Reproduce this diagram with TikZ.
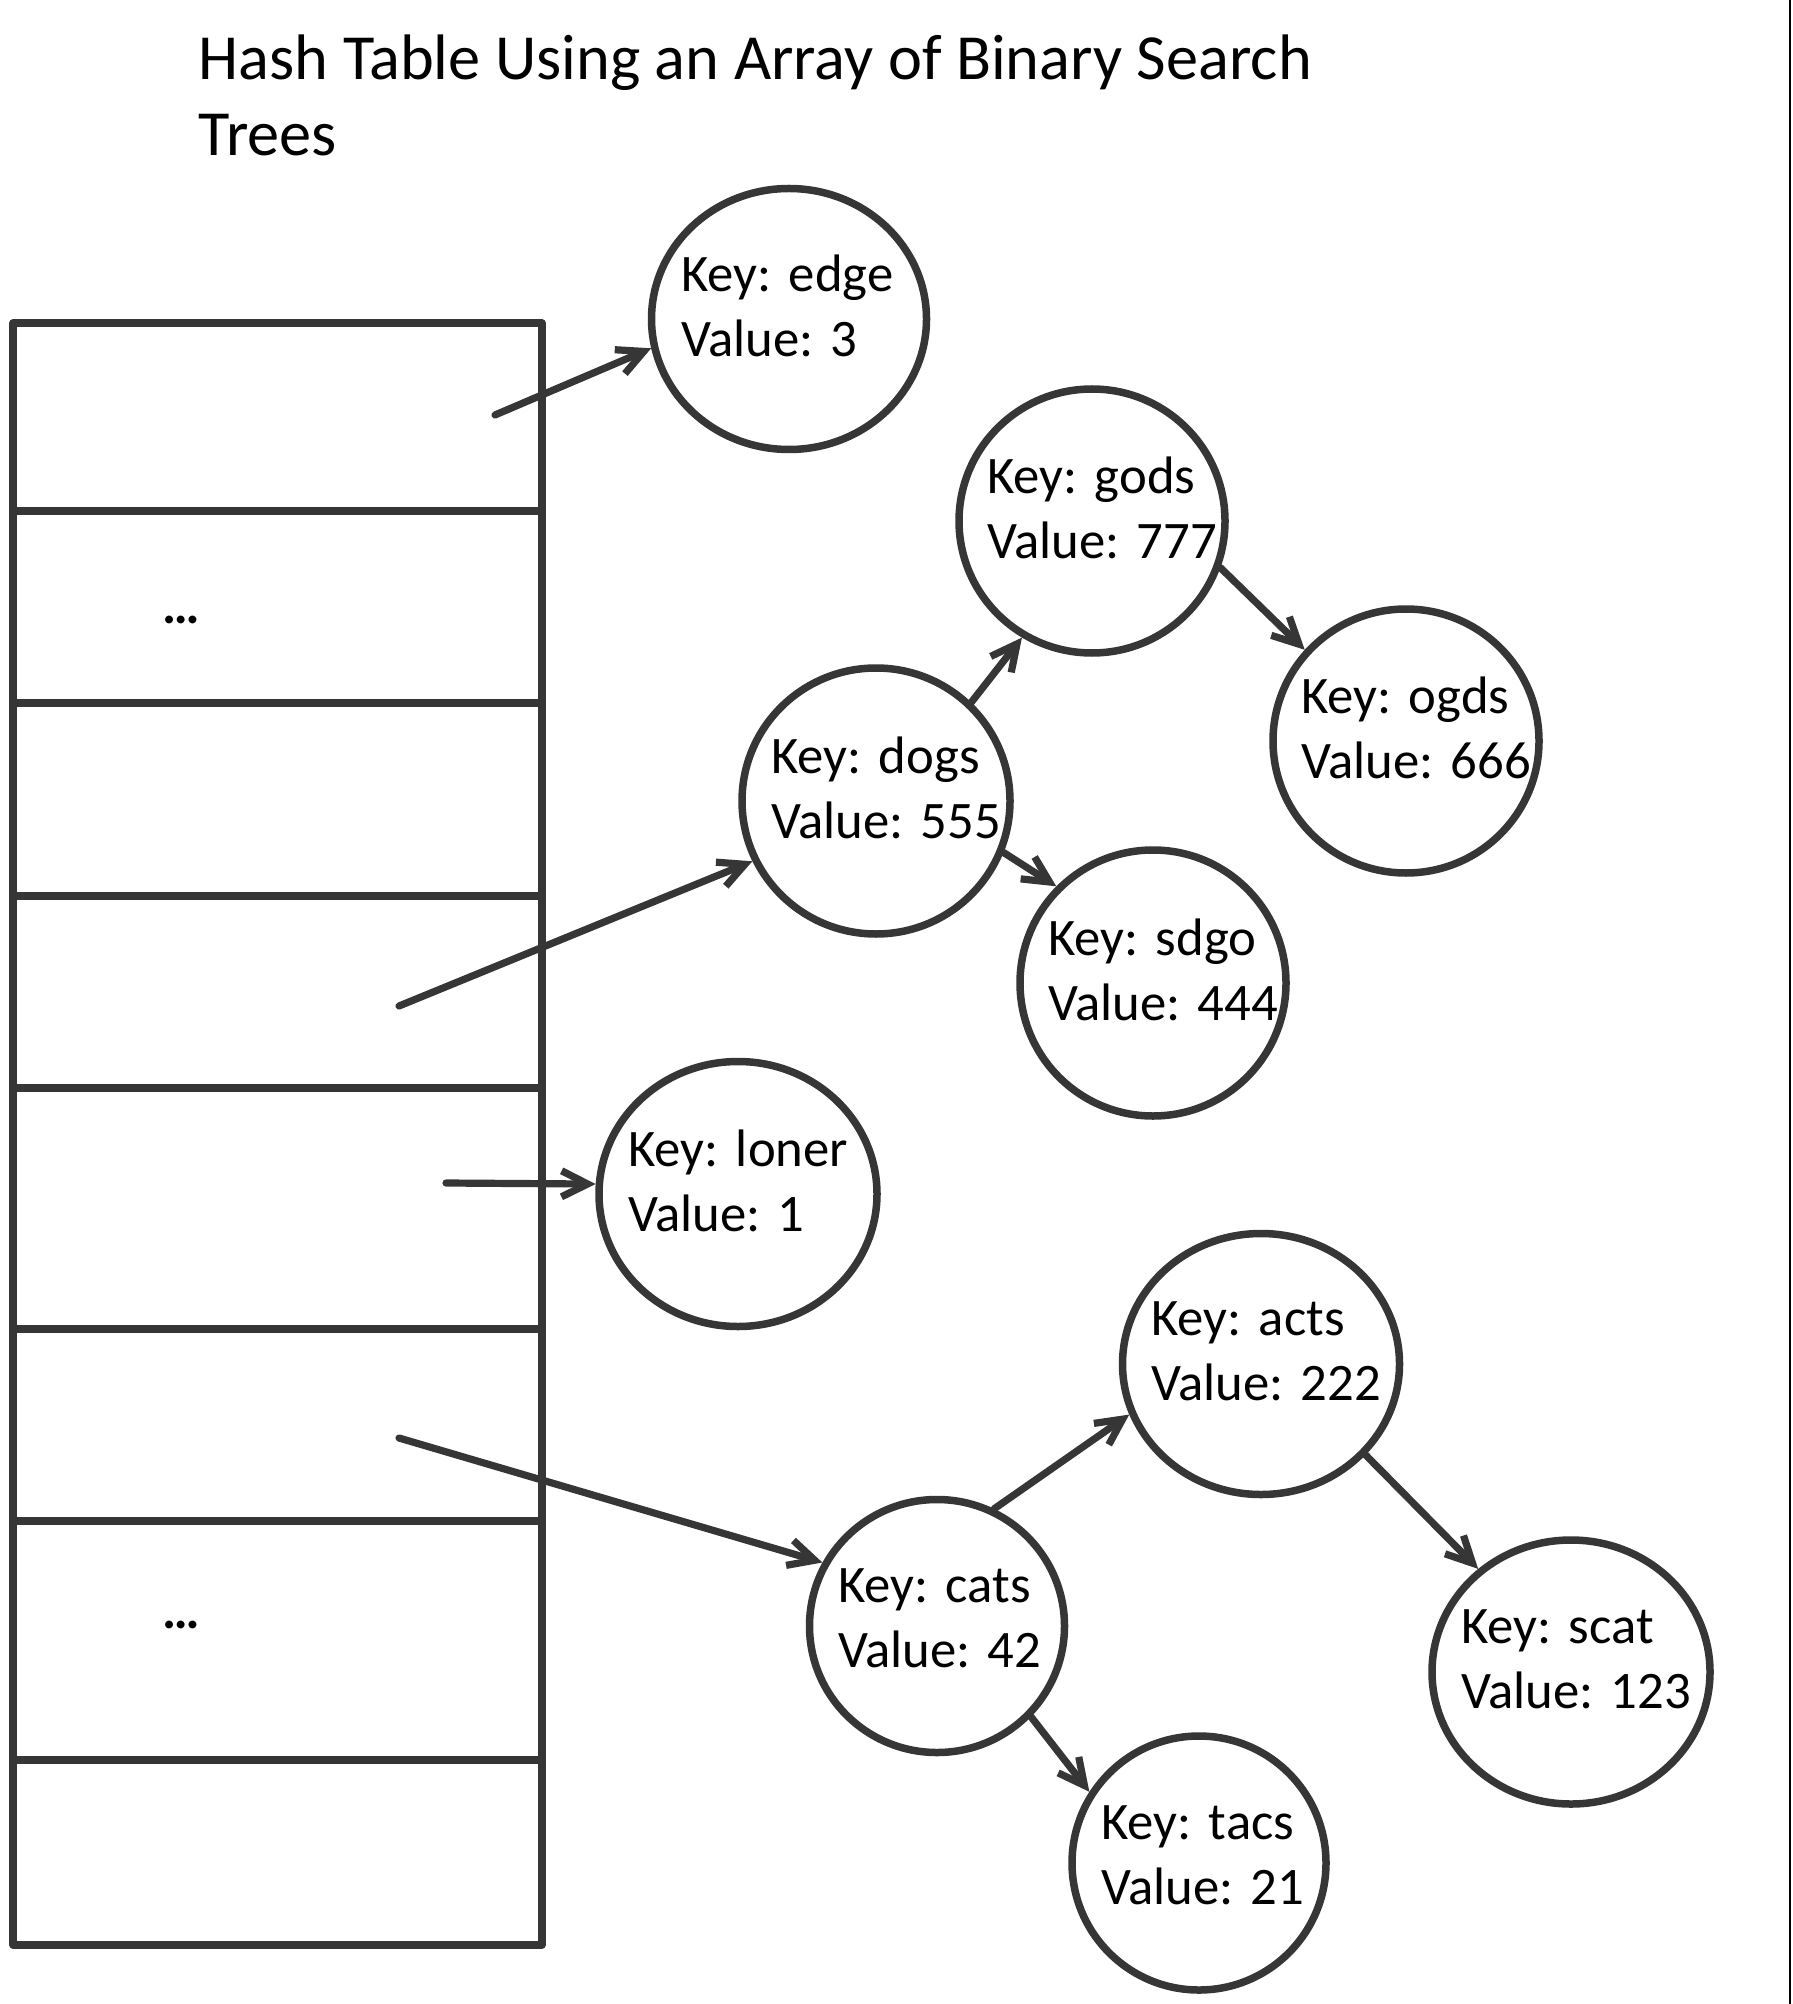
\documentclass[tikz,border=0pt]{standalone}
\usepackage{fontspec}
\setmainfont{Carlito}
\usetikzlibrary{positioning, arrows.meta, shapes.geometric}
\definecolor{inkgray}{HTML}{363636}

\begin{document}
\begin{tikzpicture}[
    every node/.style={font=\fontsize{15pt}{18.5pt}\selectfont},
    bst/.style={draw=inkgray, ellipse, line width=0.75mm, inner sep=-3mm, text width=2.1cm, align=left, text depth=26pt,
      minimum width=2.66cm, minimum height=2.64cm},
    link/.style={draw=inkgray, line width=0.72mm, line cap=round, line join=round},
    >={Straight Barb[length=2.6mm, width=2.6mm]},
  ]
  \useasboundingbox (0,0) rectangle (17.92,-20.04);

  % Title
  \node[anchor=north west, inner sep=0pt, align=left, font=\fontsize{18.3pt}{21.8pt}\selectfont] (title) at (1.98,-0.34)
    {Hash Table Using an Array of Binary Search\\Trees};

  % Array of buckets
  \draw[link] (0.13,-3.23) rectangle (5.42,-19.45);
  \foreach \y in {5.11, 7.03, 8.96, 10.88, 13.29, 15.21, 17.60}
    \draw[link] (0.13,-\y) -- (5.42,-\y);
  \node (dots1) at (1.81,-6.20) {\textbf{\ldots}};
  \node (dots2) at (1.81,-16.25) {\textbf{\ldots}};

  % Bucket pointers
  \coordinate (b1) at (4.95,-4.15);
  \coordinate (b2) at (3.99,-10.06);
  \coordinate (b3) at (4.46,-11.83);
  \coordinate (b4) at (3.99,-14.38);

  % Trees
  \node[bst, minimum width=2.75cm, minimum height=2.61cm, text width=2.16cm] (edge) at (7.89,-3.19) {Key:~edge\\Value:~3};
  \node[bst] (gods) at (10.92,-5.21) {Key:~gods\\Value:~777};
  \node[bst] (ogds) at (14.06,-7.41) {Key:~ogds\\Value:~666};
  \node[bst, minimum width=2.68cm, minimum height=2.66cm] (dogs) at (8.76,-8.01) {Key:~dogs\\Value:~555};
  \node[bst, minimum height=2.66cm] (sdgo) at (11.53,-9.83) {Key:~sdgo\\Value:~444};
  \node[bst, minimum width=2.78cm, minimum height=2.65cm, text width=2.2cm] (loner) at (7.38,-11.94) {Key:~loner\\Value:~1};
  \node[bst, minimum width=2.77cm, minimum height=2.61cm, text width=2.2cm] (acts) at (12.61,-13.64) {Key:~acts\\Value:~222};
  \node[bst, minimum width=2.55cm, minimum height=2.53cm, text width=1.98cm, text depth=23pt] (cats) at (9.37,-16.26) {Key:~cats\\Value:~42};
  \node[bst, minimum width=2.78cm, minimum height=2.64cm, text width=2.2cm] (scat) at (15.71,-16.72) {Key:~scat\\Value:~123};
  \node[bst, minimum width=2.54cm, minimum height=2.54cm, text width=1.96cm, text depth=23pt] (tacs) at (11.99,-18.63) {Key:~tacs\\Value:~21};

  \draw[link, ->] (b1) -- (edge.192);
  \draw[link, ->] (b2) -- (dogs.206);
  \draw[link, ->] (b3) -- (loner.176);
  \draw[link, ->] (b4) -- (cats.151);

  \draw[link, ->] (dogs.46) -- (gods.239);
  \draw[link, ->] (gods.-20) -- (ogds.138);
  \draw[link, ->] (dogs.-22) -- (sdgo.135);
  \draw[link, ->] (cats.64) -- (acts.201);
  \draw[link, ->] (acts.-41) -- (scat.132);
  \draw[link, ->] (cats.-44) -- (tacs.147);

  % Page edge
  \draw[black, line width=0.25mm] (17.90,0) -- (17.90,-20.04);
\end{tikzpicture}
\end{document}
